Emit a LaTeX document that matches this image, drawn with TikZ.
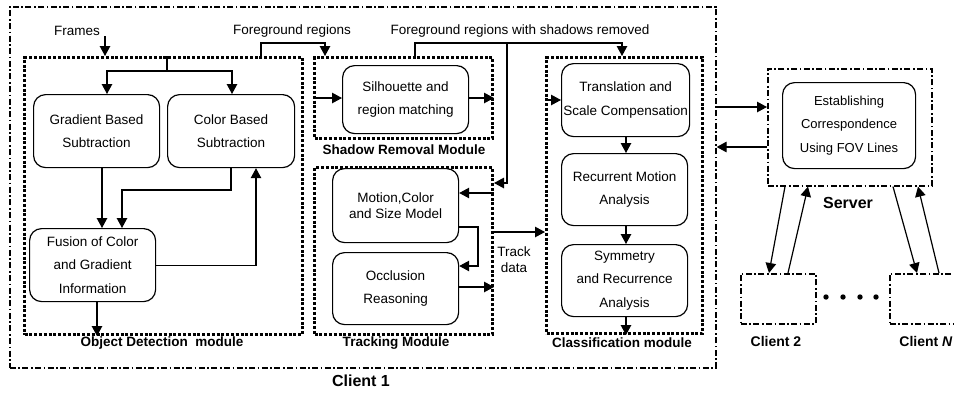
\documentclass[tikz,border=0pt]{standalone}
\usepackage{fontspec}
\setmainfont{Liberation Sans}
\usetikzlibrary{arrows.meta}
\begin{document}
\begin{tikzpicture}[x=1pt,y=-1pt,
  every node/.style={inner sep=0pt},
  box/.style={draw, rounded corners=12pt, line width=1.2pt, align=center, anchor=north west,
              font=\fontsize{13.5}{23.5}\selectfont},
  module/.style={draw, line width=3pt, dash pattern=on 3pt off 1.8pt, anchor=north west},
  site/.style={draw, line width=1.6pt, dash pattern=on 6pt off 2.5pt on 1.6pt off 2.5pt, anchor=north west},
  arr/.style={line width=1.2pt, -{Triangle[length=10pt,width=10.5pt]}},
  wire/.style={line width=1.2pt},
  lbl/.style={font=\fontsize{13.5}{16}\selectfont, align=center},
  title/.style={font=\bfseries\fontsize{13.5}{16}\selectfont},
  big/.style={font=\bfseries\fontsize{16}{18}\selectfont}]

\useasboundingbox (0,0) rectangle (954,392);
\clip (0,0) rectangle (954,392);

% ---- client 1 and its modules ----
\node[site, minimum width=706pt, minimum height=361pt] (c1) at (9,6) {};
\node[module, minimum width=278pt, minimum height=277pt] (od) at (23,56) {};
\node[module, minimum width=178pt, minimum height=81pt] (sr) at (313,56) {};
\node[module, minimum width=178pt, minimum height=167pt] (tr) at (313,166) {};
\node[module, minimum width=156pt, minimum height=276pt] (cl) at (545,56) {};

% processing steps
\node[box, minimum width=126pt, minimum height=73pt] (grad) at (33,94) {Gradient Based\\Subtraction};
\node[box, minimum width=127pt, minimum height=73pt] (col) at (167,94) {Color Based\\Subtraction};
\node[box, minimum width=126pt, minimum height=73pt] (fus) at (29,228) {Fusion of Color\\and Gradient\\Information};
\node[box, minimum width=126pt, minimum height=68pt] (sil) at (342,65) {Silhouette and\\region matching};
\node[box, minimum width=126pt, minimum height=74pt, font=\fontsize{13.5}{15.5}\selectfont] (mot) at (332,168) {Motion,Color\\and Size Model};
\node[box, minimum width=126pt, minimum height=72pt] (occ) at (332,252) {Occlusion\\Reasoning};
\node[box, minimum width=128pt, minimum height=73pt] (tra) at (561,63) {Translation and\\Scale Compensation};
\node[box, minimum width=126pt, minimum height=72pt] (rec) at (561,153) {Recurrent Motion\\Analysis};
\node[box, minimum width=126pt, minimum height=72pt] (sym) at (561,244) {Symmetry\\and Recurrence\\Analysis};

% module titles
\node[title] (odt) at (162,343) {Object Detection~ module};
\node[title] (srt) at (404,150) {Shadow Removal Module};
\node[title] (trt) at (396,343) {Tracking Module};
\node[title] (clt) at (622,343) {Classification module};
\node[big] (c1t) at (361,381) {Client 1};

% data labels
\node[lbl] (frames) at (77,31) {Frames};
\node[lbl] (fgr) at (292,31) {Foreground regions};
\node[lbl] (fgs) at (520,31) {Foreground regions with shadows removed};
\node[lbl] (track) at (514,260) {Track\\data};

% ---- server and other clients ----
\node[site, minimum width=164pt, minimum height=117pt] (srv) at (767,68) {};
\node[box, minimum width=133pt, minimum height=86pt, font=\fontsize{13}{23.5}\selectfont] (est) at (782,82) {Establishing\\Correspondence\\Using FOV Lines};
\node[big] (srvt) at (848,203) {Server};
\node[site, minimum width=75pt, minimum height=50pt] (cl2) at (740,273) {};
\node[site, minimum width=75pt, minimum height=50pt] (cln) at (889,273) {};
\node[title, font=\bfseries\fontsize{14}{16}\selectfont] (cl2t) at (776,341) {Client 2};
\node[title, font=\bfseries\fontsize{14}{16}\selectfont] (clnt) at (926,341) {Client \textit{N}};
\foreach \px in {826,843,860,876} \fill (\px,297) circle[radius=2.7pt];

% ---- connectors: object detection ----
\coordinate (fin) at (105,36);
\draw[arr] (fin) -- (fin |- od.north);
\coordinate (split) at (167,71);
\draw[wire] (split |- od.north) -- (split);
\draw[arr] (split) -| (107,0 |- grad.north);
\draw[arr] (split) -| (232,0 |- col.north);
\draw[arr] (102,0 |- grad.south) -- (102,0 |- fus.north);
\draw[arr] (231,0 |- col.south) |- (122,190) -- (122,0 |- fus.north);
\draw[arr] (fus.east) -| (256,0 |- col.south);
\draw[arr] (97,0 |- fus.south) -- (97,0 |- od.south);

% foreground regions into shadow removal
\draw[arr] (261,0 |- od.north) |- (325,43) -- (325,0 |- sr.north);
\draw[arr] (sr.west |- 0,98) -- (sil.west |- 0,98);
\draw[arr] (sil.east |- 0,98) -- (sr.east |- 0,98);

% shadow-free regions to classification and tracking
\draw[arr] (415,0 |- sr.north) |- (622,43) -- (622,0 |- cl.north);
\draw[arr] (507,43) |- (tr.east |- 0,183);

% tracking
\draw[arr] (tr.east |- 0,193) -- (mot.east |- 0,193);
\draw[arr] (mot.east |- 0,227) -| (478,246) |- (occ.east |- 0,266);
\draw[arr] (occ.east |- 0,287) -- (tr.east |- 0,287);
\draw[arr] (tr.east |- 0,232) -- (cl.west |- 0,232);

% classification
\draw[arr] (cl.west |- 0,100) -- (tra.west |- 0,100);
\draw[arr] (626,0 |- tra.south) -- (626,0 |- rec.north);
\draw[arr] (626,0 |- rec.south) -- (626,0 |- sym.north);
\draw[arr] (626,0 |- sym.south) -- (626,0 |- cl.south);

% client 1 <-> server
\draw[arr] (c1.east |- 0,107) -- (srv.west |- 0,107);
\draw[arr] (srv.west |- 0,147) -- (c1.east |- 0,147);

% server <-> other clients
\draw[arr] (785,0 |- srv.south) -- (769,0 |- cl2.north);
\draw[arr] (788,0 |- cl2.north) -- (808,0 |- srv.south);
\draw[arr] (893,0 |- srv.south) -- (917,0 |- cln.north);
\draw[arr] (939,0 |- cln.north) -- (918,0 |- srv.south);
\end{tikzpicture}
\end{document}
